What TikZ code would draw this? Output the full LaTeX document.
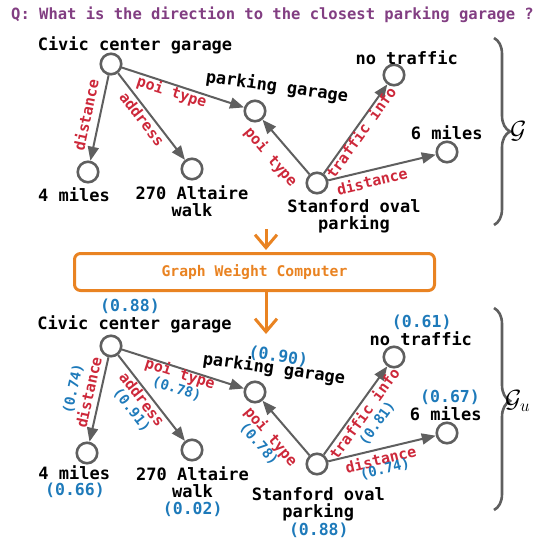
\documentclass[tikz,border=0pt]{standalone}
\usepackage{fontspec}
\setmonofont{DejaVu Sans Mono}
\usetikzlibrary{arrows.meta, decorations.pathreplacing}
\definecolor{qpurple}{RGB}{130,62,130}
\definecolor{relred}{RGB}{205,40,58}
\definecolor{wtblue}{RGB}{30,122,186}
\definecolor{gwcorange}{RGB}{233,131,34}
\definecolor{edgegray}{RGB}{95,95,95}

\tikzset{
  gnode/.style={circle, draw=edgegray, line width=2.6pt, minimum size=20.5pt, inner sep=0pt},
  ntext/.style={font=\fontsize{17}{17}\selectfont\ttfamily\bfseries, align=center, inner sep=0pt},
  nwt/.style={font=\fontsize{16.5}{17}\selectfont\ttfamily\bfseries, text=wtblue, inner sep=0pt},
  rel/.style={edgegray, line width=2pt, -{Triangle[length=14pt,width=11pt]}},
  rlab/.style={font=\fontsize{15}{15}\selectfont\ttfamily\bfseries, text=relred, inner sep=0pt},
  wlab/.style={font=\fontsize{14}{14}\selectfont\ttfamily\bfseries, text=wtblue, inner sep=0pt},
  gwbox/.style={draw=gwcorange, line width=3pt, rounded corners=6pt, text=gwcorange,
    minimum width=360pt, minimum height=37pt, font=\fontsize{14.7}{15}\selectfont\ttfamily\bfseries},
  flow/.style={gwcorange, line width=3pt, -{Straight Barb[length=13pt,width=22pt]}},
  grp/.style={decorate, decoration={brace, amplitude=16pt, aspect=#1}, edgegray, line width=2.6pt},
}

\begin{document}
\begin{tikzpicture}[x=1pt, y=-1pt]
  \useasboundingbox (0,0) rectangle (543,542);

  % question
  \node[font=\fontsize{15.5}{16}\selectfont\ttfamily\bfseries, text=qpurple, inner sep=0pt]
    (question) at (272.5,15) {Q: What is the direction to the closest parking garage ?};

  % knowledge graph G
  \node[gnode] (civic) at (111,64) {};
  \node[gnode] (pkg) at (255,111) {};
  \node[gnode] (fourmi) at (88,172) {};
  \node[gnode] (altaire) at (192,169) {};
  \node[gnode] (stanford) at (317,183) {};
  \node[gnode] (notraffic) at (394,75) {};
  \node[gnode] (sixmi) at (447,152) {};

  \node[ntext] (civicl) at (135,45.8) {Civic center garage};
  \node[ntext, rotate=-8] (pkgl) at (277,87) {parking garage};
  \node[ntext] (fourmil) at (74,195) {4 miles};
  \node[ntext] (altairel) at (192,201.3) {270 Altaire\\walk};
  \node[ntext] (stanfordl) at (354,216.7) {Stanford oval\\parking};
  \node[ntext] (notrafficl) at (406.7,57.5) {no traffic};
  \node[ntext] (sixmil) at (446.7,132.5) {6 miles};

  \draw[rel] (civic) -- (fourmi);
  \draw[rel] (civic) -- (altaire);
  \draw[rel] (civic) -- (pkg);
  \draw[rel] (stanford) -- (pkg);
  \draw[rel] (stanford) -- (notraffic);
  \draw[rel] (stanford) -- (sixmi);

  \node[rlab, rotate=78] (r1) at (85.7,115) {distance};
  \node[rlab, rotate=-52.4] (r2) at (142.3,119) {address};
  \node[rlab, rotate=-17.9] (r3) at (171.7,92.3) {poi type};
  \node[rlab, rotate=-49.6] (r4) at (270.7,157.3) {poi type};
  \node[rlab, rotate=54.4] (r5) at (360.7,132.4) {traffic info};
  \node[rlab, rotate=13.4] (r6) at (372,181) {distance};

  \draw[grp=0.5] (494,38) -- (494,225);
  \node[font=\fontsize{24}{24}\selectfont, anchor=west, inner sep=0pt] (gname) at (510,131) {$\mathcal{G}$};

  % weight computer
  \node[gwbox] (gwc) at (254.5,272) {Graph Weight Computer};
  \coordinate (flowin) at (266,229);
  \coordinate (flowout) at (266,334);
  \draw[flow, shorten >=2pt] (flowin) -- (flowin |- gwc.north);
  \draw[flow] (gwc.south -| flowout) -- (flowout);

  % weighted graph G_u
  \node[gnode] (civicu) at (111,346) {};
  \node[gnode] (pkgu) at (255,392) {};
  \node[gnode] (fourmiu) at (87,453) {};
  \node[gnode] (altaireu) at (192,450) {};
  \node[gnode] (stanfordu) at (317,464) {};
  \node[gnode] (notrafficu) at (394,357) {};
  \node[gnode] (sixmiu) at (447,433) {};

  \node[ntext] (civicul) at (134.5,324.2) {Civic center garage};
  \node[nwt] (civicuw) at (130,306.7) {(0.88)};
  \node[ntext, rotate=-8] (pkgul) at (274,369) {parking garage};
  \node[nwt, rotate=-8] (pkguw) at (278.3,356.5) {(0.90)};
  \node[ntext] (fourmiul) at (74.2,472.5) {4 miles};
  \node[nwt] (fourmiuw) at (75,490.8) {(0.66)};
  \node[ntext] (altaireul) at (192.5,481.7) {270 Altaire\\walk};
  \node[nwt] (altaireuw) at (192.7,509.2) {(0.02)};
  \node[ntext] (stanfordul) at (318.3,504.7) {Stanford oval\\parking};
  \node[nwt] (stanforduw) at (318.8,530.8) {(0.88)};
  \node[ntext] (notrafficul) at (420.8,338.8) {no traffic};
  \node[nwt] (notrafficuw) at (421.7,322.5) {(0.61)};
  \node[ntext] (sixmiul) at (445.8,413.3) {6 miles};
  \node[nwt] (sixmiuw) at (450,397.5) {(0.67)};

  \draw[rel] (civicu) -- (fourmiu);
  \draw[rel] (civicu) -- (altaireu);
  \draw[rel] (civicu) -- (pkgu);
  \draw[rel] (stanfordu) -- (pkgu);
  \draw[rel] (stanfordu) -- (notrafficu);
  \draw[rel] (stanfordu) -- (sixmiu);

  \node[rlab, rotate=77.4] (ru1) at (88.3,392.3) {distance};
  \node[wlab, rotate=77.4] (wu1) at (73.3,389) {(0.74)};
  \node[rlab, rotate=-52.1] (ru2) at (142.3,399) {address};
  \node[wlab, rotate=-52.1] (wu2) at (131.7,410) {(0.91)};
  \node[rlab, rotate=-17.7] (ru3) at (180,374) {poi type};
  \node[wlab, rotate=-17.7] (wu3) at (176.7,389) {(0.78)};
  \node[rlab, rotate=-49.5] (ru4) at (270.7,436.7) {poi type};
  \node[wlab, rotate=-49.5] (wu4) at (259,444) {(0.78)};
  \node[rlab, rotate=54.2] (ru5) at (364,413.3) {traffic info};
  \node[wlab, rotate=54.2] (wu5) at (377.3,423.3) {(0.81)};
  \node[rlab, rotate=13.4] (ru6) at (380.7,459) {distance};
  \node[wlab, rotate=13.4] (wu6) at (385,469) {(0.74)};

  \draw[grp=0.46] (494,308) -- (494,510);
  \node[font=\fontsize{24}{24}\selectfont, anchor=west, inner sep=0pt] (guname) at (505,401) {$\mathcal{G}_u$};
\end{tikzpicture}
\end{document}
